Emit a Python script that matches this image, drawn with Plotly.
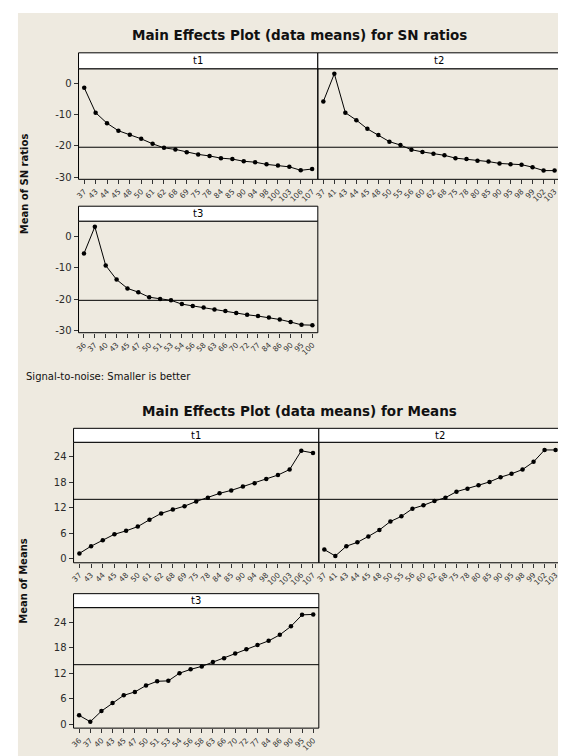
import plotly.graph_objects as go

W, H = 566, 756
BG = "#EEEAE0"
FONT = "DejaVu Sans"
TFONT = "DejaVu Sans"

# ---------------- data ----------------
t1_levels = ["37","43","44","45","48","50","61","62","68","69","75","78","84","85","90","94","98","100","103","106","107"]
t2_levels = ["37","41","43","44","45","48","50","55","56","60","62","68","75","78","80","85","90","95","98","99","102","103"]
t3_levels = ["36","37","40","43","45","47","50","51","53","54","56","58","63","66","70","72","77","84","86","90","95","100"]

sn_t1 = [-1.3, -9.3, -12.7, -15.1, -16.4, -17.7, -19.3, -20.6, -21.1, -22.0, -22.7, -23.2, -23.9, -24.2, -24.9, -25.2, -25.9, -26.3, -26.7, -27.8, -27.4]
sn_t2 = [-5.7, 3.2, -9.3, -11.7, -14.5, -16.5, -18.6, -19.7, -21.2, -21.9, -22.5, -23.0, -23.9, -24.2, -24.7, -25.0, -25.6, -25.9, -26.0, -26.8, -27.9, -27.9]
sn_t3 = [-5.5, 3.0, -9.3, -13.8, -16.6, -17.8, -19.4, -20.0, -20.4, -21.6, -22.2, -22.7, -23.3, -23.8, -24.4, -25.0, -25.4, -25.9, -26.5, -27.3, -28.2, -28.3]
sn_ref = -20.4

mean_t1 = [1.3, 3.0, 4.4, 5.8, 6.6, 7.6, 9.2, 10.7, 11.6, 12.4, 13.5, 14.4, 15.4, 16.1, 17.0, 17.8, 18.8, 19.7, 21.0, 25.4, 24.9]
mean_t2 = [2.2, 0.7, 3.0, 3.9, 5.3, 6.8, 8.8, 10.0, 11.8, 12.6, 13.6, 14.4, 15.8, 16.5, 17.3, 18.1, 19.2, 20.0, 21.0, 22.8, 25.6, 25.6]
mean_t3 = [2.1, 0.6, 3.1, 5.0, 6.8, 7.6, 9.1, 10.1, 10.2, 12.0, 12.9, 13.6, 14.6, 15.5, 16.6, 17.6, 18.6, 19.6, 21.0, 23.0, 25.7, 25.8]
mean_ref = 14.0

sn_ticks = [0, -10, -20, -30]
mean_ticks = [0, 6, 12, 18, 24]
sn_range = [-30.7, 4.8]
mean_range = [-0.9, 27.4]

# ---------------- layout helpers (pixels) ----------------
def xd(a, b):
    return [a / W, b / W]

def yd(top, bottom):
    return [1 - bottom / H, 1 - top / H]

panels = [
    # name, levels, values, ref, ticks, range, x0, x1, top, bottom, show y labels, strip top
    ("t1", t1_levels, sn_t1, sn_ref, sn_ticks, sn_range, 67, 308, 61, 172, True, 45),
    ("t2", t2_levels, sn_t2, sn_ref, sn_ticks, sn_range, 308, 552, 61, 172, False, 45),
    ("t3", t3_levels, sn_t3, sn_ref, sn_ticks, sn_range, 67, 308, 214, 326, True, 199),
    ("t1", t1_levels, mean_t1, mean_ref, mean_ticks, mean_range, 62, 309, 436, 557, True, 422),
    ("t2", t2_levels, mean_t2, mean_ref, mean_ticks, mean_range, 309, 553, 436, 557, False, 422),
    ("t3", t3_levels, mean_t3, mean_ref, mean_ticks, mean_range, 62, 309, 602, 723, True, 588),
]

fig = go.Figure()
shapes = []
annotations = []

# background panel
shapes.append(dict(type="rect", xref="paper", yref="paper", x0=6 / W, x1=1, y0=0, y1=1 - 5 / H,
                   fillcolor=BG, line=dict(width=0), layer="below"))

for i, (name, levels, vals, ref, ticks, rng, x0, x1, top, bot, showy, stop) in enumerate(panels):
    k = "" if i == 0 else str(i + 1)
    xa, ya = "x" + k, "y" + k
    fig.add_trace(go.Scatter(
        x=levels, y=vals, xaxis=xa, yaxis=ya, mode="lines+markers",
        line=dict(color="black", width=1),
        marker=dict(color="black", size=4.5, symbol="circle"),
        showlegend=False, hoverinfo="skip"))
    n = len(levels)
    fig.layout["xaxis" + k] = dict(
        domain=xd(x0, x1), anchor=ya, type="category",
        categoryorder="array", categoryarray=levels,
        range=[-0.5, n - 0.5], showgrid=False, zeroline=False,
        showline=False,
        ticks="outside", ticklen=4, tickcolor="#333", tickwidth=1,
        tickangle=-45, tickfont=dict(family=FONT, size=7.5, color="#333"),
        fixedrange=True)
    fig.layout["yaxis" + k] = dict(
        domain=yd(top, bot), anchor=xa, range=rng,
        tickvals=ticks if showy else [],
        ticktext=[str(t) for t in ticks] if showy else [],
        showgrid=False, zeroline=False, showline=False,
        ticks="outside" if showy else "", ticklen=4, tickcolor="#333",
        tickfont=dict(family=FONT, size=10, color="#2a2a2a"),
        fixedrange=True)
    # reference line
    shapes.append(dict(type="line", xref=xa + " domain", yref=ya, x0=0, x1=1, y0=ref, y1=ref,
                       line=dict(color="black", width=1)))
    # frame
    shapes.append(dict(type="rect", xref="paper", yref="paper",
                       x0=x0 / W, x1=x1 / W, y0=1 - bot / H, y1=1 - top / H,
                       line=dict(color="black", width=1), fillcolor="rgba(0,0,0,0)"))
    # strip
    shapes.append(dict(type="rect", xref="paper", yref="paper",
                       x0=x0 / W, x1=x1 / W, y0=1 - top / H, y1=1 - stop / H,
                       fillcolor="white", line=dict(color="black", width=1)))
    annotations.append(dict(xref="paper", yref="paper", x=(x0 + x1) / 2 / W, y=1 - (stop + top) / 2 / H,
                            text=name, showarrow=False, xanchor="center", yanchor="middle",
                            font=dict(family=FONT, size=10, color="black")))

# titles
annotations.append(dict(xref="paper", yref="paper", x=290 / W, y=1 - 27 / H,
                        text="<b>Main Effects Plot (data means) for SN ratios</b>", showarrow=False,
                        xanchor="center", yanchor="middle", font=dict(family=TFONT, size=13.5, color="#111")))
annotations.append(dict(xref="paper", yref="paper", x=290 / W, y=1 - 405 / H,
                        text="<b>Main Effects Plot (data means) for Means</b>", showarrow=False,
                        xanchor="center", yanchor="middle", font=dict(family=TFONT, size=13.5, color="#111")))
annotations.append(dict(xref="paper", yref="paper", x=12 / W, y=1 - 370 / H,
                        text="Signal-to-noise: Smaller is better", showarrow=False,
                        xanchor="left", yanchor="middle", font=dict(family=FONT, size=10, color="#111")))
annotations.append(dict(xref="paper", yref="paper", x=12 / W, y=1 - 176 / H,
                        text="<b>Mean of SN ratios</b>", showarrow=False, textangle=-90,
                        xanchor="center", yanchor="middle", font=dict(family=FONT, size=10, color="#111")))
annotations.append(dict(xref="paper", yref="paper", x=12 / W, y=1 - 575 / H,
                        text="<b>Mean of Means</b>", showarrow=False, textangle=-90,
                        xanchor="center", yanchor="middle", font=dict(family=FONT, size=10, color="#111")))

fig.update_layout(
    width=W, height=H, margin=dict(l=0, r=0, t=0, b=0),
    paper_bgcolor="white", plot_bgcolor="white",
    shapes=shapes, annotations=annotations, showlegend=False,
)

fig.write_html("out.html", config={"displayModeBar": False})
